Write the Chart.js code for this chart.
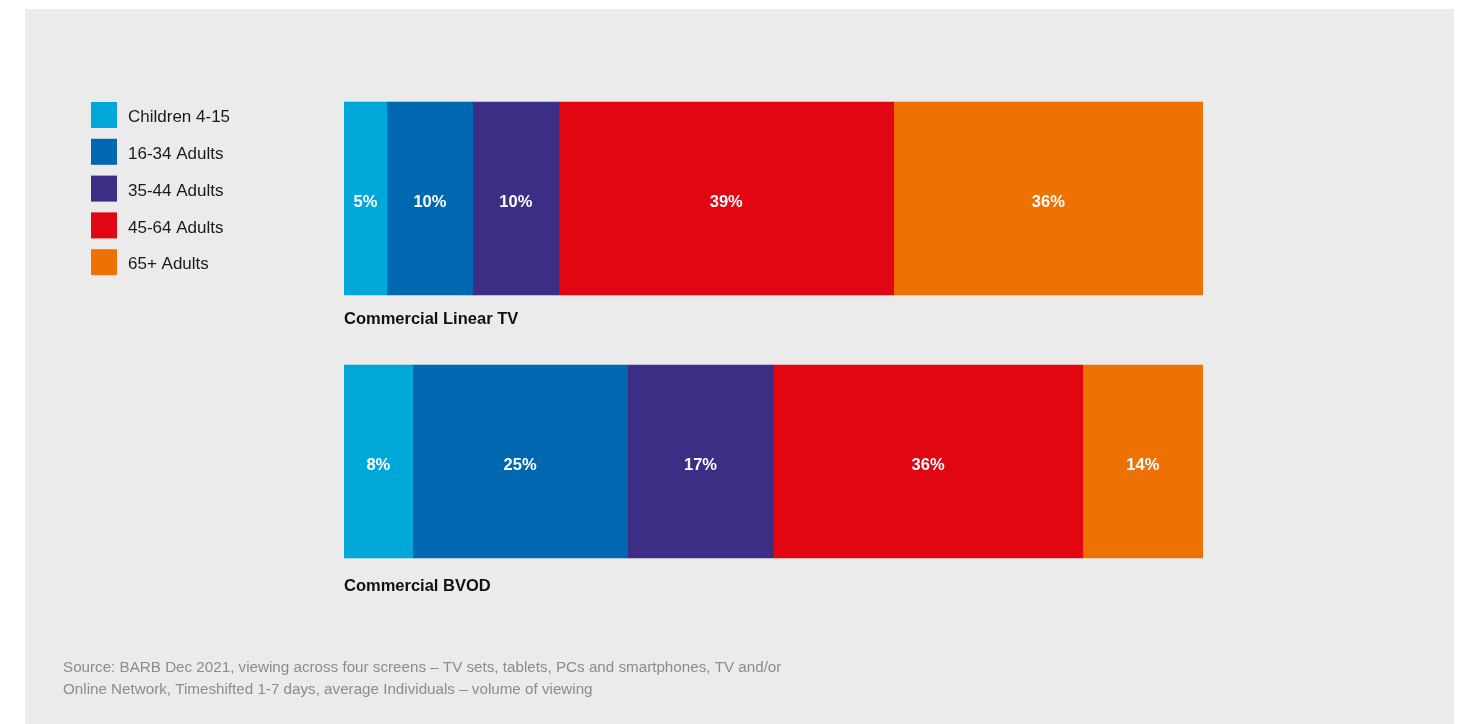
<!DOCTYPE html>
<html>
<head>
<meta charset="utf-8">
<title>Viewing by age group</title>
<script src="https://cdn.jsdelivr.net/npm/chart.js@4.4.1/dist/chart.umd.min.js"></script>
<style>
  html, body { margin: 0; padding: 0; background: #ffffff; }
  #wrap { width: 1476px; height: 724px; position: relative; }
</style>
</head>
<body>
<div id="wrap"><canvas id="ageChart" width="1476" height="724"></canvas></div>
<script>
// Share of viewing by age group (%)
const platforms = ['Commercial Linear TV', 'Commercial BVOD'];
const ageGroups = ['Children 4-15', '16-34 Adults', '35-44 Adults', '45-64 Adults', '65+ Adults'];
const children = [5, 8];
const adults1634 = [10, 25];
const adults3544 = [10, 17];
const adults4564 = [39, 36];
const adults65 = [36, 14];
const groupColours = ['#00a8da', '#0068b0', '#3c2e84', '#e20613', '#ee7203'];
const sourceLines = [
    'Source: BARB Dec 2021, viewing across four screens \u2013 TV sets, tablets, PCs and smartphones, TV and/or',
    'Online Network, Timeshifted 1-7 days, average Individuals \u2013 volume of viewing'
];

const seriesValues = [children, adults1634, adults3544, adults4564, adults65];
const fontFamily = '"Liberation Sans", Arial, sans-serif';

// grey backdrop panel behind everything
const panelPlugin = {
    id: 'panel',
    beforeDraw(chart) {
        const ctx = chart.ctx;
        ctx.save();
        ctx.fillStyle = '#ebebeb';
        ctx.fillRect(25, 9, 1429, 715);
        ctx.restore();
    }
};

// legend, percentage labels, platform names and source note
const annotatePlugin = {
    id: 'annotate',
    afterDraw(chart) {
        const ctx = chart.ctx;
        ctx.save();

        // legend on the left
        chart.data.datasets.forEach((ds, i) => {
            const y = 102 + i * 36.8;
            ctx.fillStyle = ds.backgroundColor;
            ctx.fillRect(91, y, 26, 26);
            ctx.fillStyle = '#1a1a1a';
            ctx.font = '17px ' + fontFamily;
            ctx.textAlign = 'left';
            ctx.textBaseline = 'middle';
            ctx.fillText(ds.label, 128, y + 15.5);
        });

        // value labels inside each segment
        ctx.fillStyle = '#ffffff';
        ctx.font = 'bold 16.5px ' + fontFamily;
        ctx.textAlign = 'center';
        ctx.textBaseline = 'middle';
        chart.data.datasets.forEach((ds, i) => {
            chart.getDatasetMeta(i).data.forEach((bar, j) => {
                const cx = (bar.x + bar.base) / 2;
                ctx.fillText(ds.data[j] + '%', cx, bar.y + 4);
            });
        });

        // platform names under each bar
        const first = chart.getDatasetMeta(0).data;
        ctx.fillStyle = '#111111';
        ctx.font = 'bold 16.5px ' + fontFamily;
        ctx.textAlign = 'left';
        platforms.forEach((name, j) => {
            const bottom = first[j].y + first[j].height / 2;
            ctx.fillText(name, chart.chartArea.left, bottom + 24 + (j === 1 ? 4 : 0));
        });

        // source note
        ctx.fillStyle = '#8c8c8c';
        ctx.font = '15.2px ' + fontFamily;
        ctx.textBaseline = 'middle';
        sourceLines.forEach((line, k) => {
            ctx.fillText(line, 63, 668 + k * 22);
        });

        ctx.restore();
    }
};

new Chart(document.getElementById('ageChart'), {
    type: 'bar',
    data: {
        labels: platforms,
        datasets: ageGroups.map((g, i) => ({
            label: g,
            data: seriesValues[i],
            backgroundColor: groupColours[i],
            borderWidth: 0,
            barThickness: 193
        }))
    },
    options: {
        indexAxis: 'y',
        responsive: false,
        animation: false,
        layout: { padding: { left: 344, right: 273, top: 67, bottom: 131 } },
        scales: {
            x: { stacked: true, min: 0, max: 100, display: false },
            y: { stacked: true, display: false }
        },
        plugins: {
            legend: { display: false },
            tooltip: { enabled: false }
        }
    },
    plugins: [panelPlugin, annotatePlugin]
});
</script>
</body>
</html>
